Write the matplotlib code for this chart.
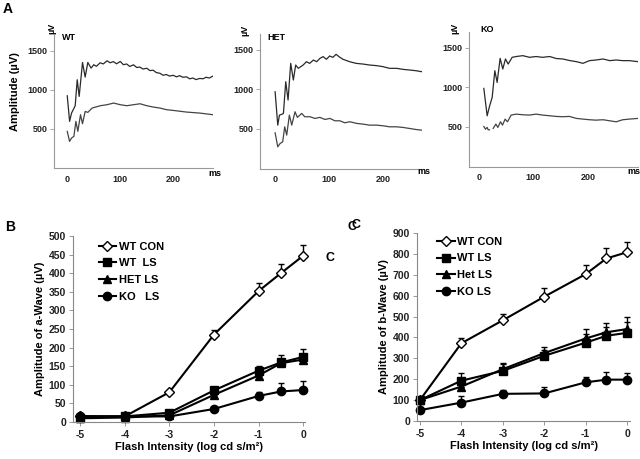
import numpy as np
import matplotlib
matplotlib.use("Agg")
import matplotlib.pyplot as plt

plt.rcParams['font.family'] = ['Liberation Sans', 'DejaVu Sans']
plt.rcParams['font.weight'] = 'bold'
plt.rcParams['axes.unicode_minus'] = False

# ---- panel A: ERG traces (ms, uV)
wt_top_ms = [0, 4.4, 8.1, 11.3, 15, 18.8, 22.5, 28.8, 33.8, 38.8, 45, 50, 55, 62, 68, 75, 81, 87, 93, 100,
             106, 112, 118, 125, 131, 137, 143, 150, 156, 162, 168, 175, 181, 187, 193, 200, 206, 212,
             218, 225, 231, 237, 243, 250, 256, 262, 268, 275]
wt_top_uv = [923, 596, 702, 745, 796, 1128, 915, 1349, 1162, 1349, 1277, 1320, 1300, 1345, 1330, 1370, 1345,
             1360, 1332, 1362, 1320, 1330, 1298, 1319, 1285, 1290, 1265, 1275, 1245, 1250, 1220, 1210, 1185,
             1195, 1175, 1185, 1165, 1180, 1160, 1165, 1140, 1150, 1130, 1145, 1140, 1160, 1150, 1175]
wt_bot_ms = [0, 4.4, 8.1, 12.5, 16.3, 20, 25, 28.8, 33.8, 38.8, 46.9, 62.5, 75, 87.5, 100, 112.5, 125,
             137.5, 150, 162.5, 175, 187.5, 200, 225, 250, 275]
wt_bot_uv = [468, 340, 383, 404, 596, 468, 681, 566, 723, 711, 766, 796, 809, 830, 809, 796, 809, 821, 796,
             779, 766, 745, 736, 715, 702, 681]

het_top_ms = [0, 4.9, 8, 11.7, 15.4, 19.7, 24, 28.9, 33.8, 38.1, 43, 52, 58, 64, 71, 77, 83, 89, 95, 101,
              107, 113, 120, 126, 138, 150, 163, 175, 188, 200, 212, 225, 237, 249, 261, 271]
het_top_uv = [970, 548, 675, 683, 696, 1097, 865, 1329, 1118, 1308, 1266, 1308, 1350, 1329, 1371, 1350, 1392,
              1414, 1380, 1422, 1405, 1443, 1405, 1380, 1350, 1329, 1320, 1308, 1300, 1287, 1266, 1266, 1253,
              1245, 1236, 1224]
het_bot_ms = [0, 4.9, 9.2, 14, 17.8, 21.5, 26.4, 30.8, 36.9, 41.2, 49.2, 55, 64.6, 73.8, 83, 92.3, 101.5,
              110.8, 120, 129, 138.5, 151, 163, 175, 188, 200, 212, 225, 237, 249, 261, 271]
het_bot_uv = [451, 274, 316, 337, 527, 422, 675, 548, 717, 646, 696, 654, 654, 633, 646, 620, 633, 603, 603,
              578, 591, 570, 561, 548, 548, 540, 527, 527, 519, 506, 493, 485]

ko_top_ms = [9.2, 15.3, 19.6, 24.5, 29.4, 33.6, 39.1, 44, 48.9, 53.8, 61.2, 68.5, 80.7, 93, 105, 117, 130,
             142, 154, 166, 179, 191, 203, 215, 228, 240, 252, 264, 276, 292]
ko_top_uv = [987, 641, 760, 873, 1211, 1063, 1367, 1232, 1359, 1295, 1380, 1390, 1401, 1380, 1390, 1380, 1390,
             1365, 1359, 1340, 1325, 1304, 1338, 1346, 1359, 1338, 1346, 1338, 1338, 1325]
ko_bot_ms = [9.2, 12.2, 15.3, 17.1, 19.6, 22, 26.3, 31.2, 34.9, 39.8, 43.4, 48.3, 52.6, 59.3, 68.5, 80.7, 93,
             105, 117, 130, 142, 154, 166, 179, 191, 203, 215, 228, 240, 252, 264, 276, 292]
ko_bot_uv = [506, 472, 494, 464, 464, np.nan, 481, 536, 494, 565, 523, 599, 565, 650, 662, 654, 650, 662, 650,
             641, 633, 629, 633, 608, 599, 591, 586, 591, 578, 565, 591, 599, 608]

# ---- panels B and C
intensity = [-5, -4, -3, -2, -1, -0.5, 0]

a_wt_con = [15, 15, 80, 235, 352, 400, 447]
a_wt_con_err = [0, 0, 0, 13, 22, 25, 28]
a_wt_ls = [12, 15, 25, 85, 138, 160, 175]
a_wt_ls_err = [0, 0, 0, 5, 12, 19, 20]
a_het_ls = [10, 12, 18, 73, 125, 158, 168]
a_het_ls_err = [0, 0, 0, 3, 8, 12, 15]
a_ko_ls = [16, 15, 15, 35, 70, 82, 86]
a_ko_ls_err = [0, 0, 0, 0, 10, 24, 23]

b_wt_con = [100, 372, 482, 595, 703, 778, 808]
b_wt_con_err = [0, 24, 32, 40, 42, 50, 50]
b_wt_ls = [100, 193, 240, 312, 375, 408, 422]
b_wt_ls_err = [0, 35, 39, 30, 40, 40, 50]
b_het_ls = [100, 165, 248, 325, 395, 425, 440]
b_het_ls_err = [0, 0, 25, 30, 44, 46, 57]
b_ko_ls = [52, 88, 130, 132, 185, 198, 198]
b_ko_ls_err = [0, 30, 20, 33, 24, 37, 33]

a_labels = ['WT CON', 'WT  LS', 'HET LS', 'KO   LS']
b_labels = ['WT CON', 'WT LS', 'Het LS', 'KO LS']

W, H = 640, 459


def box(l, t, r, b):
    return [l / W, 1 - b / H, (r - l) / W, (b - t) / H]


def ftext(x, y, s, **kw):
    fig.text(x / W, 1 - y / H, s, **kw)


fig = plt.figure(figsize=(6.4, 4.59), dpi=100)

traces = [
    ("WT", box(54, 35, 213, 168), (-25, 275), (wt_top_ms, wt_top_uv), (wt_bot_ms, wt_bot_uv)),
    ("HET", box(260, 34, 423, 168.5), (-28, 274), (het_top_ms, het_top_uv), (het_bot_ms, het_bot_uv)),
    ("KO", box(469, 32, 638, 166.5), (-18, 292), (ko_top_ms, ko_top_uv), (ko_bot_ms, ko_bot_uv)),
]
for name, pos, xl, top, bot in traces:
    ax = fig.add_axes(pos)
    ax.plot(top[0], top[1], color='#2a2a2a', lw=0.9)
    ax.plot(bot[0], bot[1], color='#444444', lw=0.9)
    ax.set_xlim(*xl)
    ax.set_ylim(0, 1700)
    ax.set_xticks([0, 100, 200])
    ax.set_yticks([500, 1000, 1500])
    for s in ['top', 'right']:
        ax.spines[s].set_visible(False)
    for s in ['left', 'bottom']:
        ax.spines[s].set_color('#999999')
        ax.spines[s].set_linewidth(0.8)
    ax.tick_params(axis='y', length=3, width=0.6, color='#999999', labelsize=6.5, pad=1.5)
    ax.tick_params(axis='x', length=0, labelsize=6.5, pad=5)
    for lab in ax.get_xticklabels() + ax.get_yticklabels():
        lab.set_fontweight('bold')
        lab.set_color('#222222')

ftext(3, 9, 'A', fontsize=10, fontweight='bold', va='center')
ftext(15, 92, 'Amplitude (µV)', rotation=90, fontsize=8, fontweight='bold', ha='center', va='center')
ftext(52, 28, 'µV', rotation=90, fontsize=6.5, fontweight='bold', ha='center', va='center')
ftext(245, 30, 'µV', rotation=90, fontsize=6.5, fontweight='bold', ha='center', va='center')
ftext(455, 28, 'µV', rotation=90, fontsize=6.5, fontweight='bold', ha='center', va='center')
ftext(62, 38, 'WT', fontsize=6.5, fontweight='bold', va='center')
ftext(267, 38, 'HET', fontsize=6.5, fontweight='bold', va='center')
ftext(480, 30, 'KO', fontsize=6.5, fontweight='bold', va='center')
ftext(208, 173, 'ms', fontsize=6.5, fontweight='bold', va='center')
ftext(417, 172, 'ms', fontsize=6.5, fontweight='bold', va='center')
ftext(627, 172, 'ms', fontsize=6.5, fontweight='bold', va='center')


def dose_panel(pos, xl, yl, yticks, series, labels, ylabel, leg_anchor):
    ax = fig.add_axes(pos)
    styles = [dict(marker='D', mfc='white', ms=4.6),
              dict(marker='s', mfc='black', ms=5.6),
              dict(marker='^', mfc='black', ms=6.0),
              dict(marker='o', mfc='black', ms=6.0)]
    for (vals, err), st, lab in zip(series, styles, labels):
        ax.errorbar(intensity, vals, yerr=[np.zeros(len(err)), err], color='black', lw=1.5,
                    mec='black', mew=1.0, capsize=2.5, elinewidth=1.0, capthick=1.0, label=lab,
                    clip_on=False, **st)
    ax.set_xlim(*xl)
    ax.set_ylim(*yl)
    ax.set_xticks([-5, -4, -3, -2, -1, 0])
    ax.set_yticks(yticks)
    for s in ['top', 'right']:
        ax.spines[s].set_visible(False)
    for s in ['left', 'bottom']:
        ax.spines[s].set_color('#888888')
        ax.spines[s].set_linewidth(0.8)
    ax.tick_params(length=3, width=0.6, color='#888888', labelsize=7.5, pad=2)
    ax.tick_params(axis='x', pad=2.5)
    for lab in ax.get_xticklabels() + ax.get_yticklabels():
        lab.set_fontweight('bold')
        lab.set_color('#222222')
    ax.set_ylabel(ylabel, fontsize=8, fontweight='bold', labelpad=3)
    ax.set_xlabel('Flash Intensity (log cd s/m²)', fontsize=8, fontweight='bold', labelpad=2)
    h, l = ax.get_legend_handles_labels()
    handles = [hh[0] for hh in h]
    ax.legend(handles, l, loc='upper left', bbox_to_anchor=leg_anchor, frameon=False,
              prop={'size': 8, 'weight': 'bold'}, handlelength=1.6, handletextpad=0.2,
              labelspacing=0.6, borderpad=0, borderaxespad=0)
    return ax


dose_panel(box(73, 236, 305, 422), (-5.16, 0.04), (0, 500), range(0, 501, 50),
           [(a_wt_con, a_wt_con_err), (a_wt_ls, a_wt_ls_err), (a_het_ls, a_het_ls_err), (a_ko_ls, a_ko_ls_err)],
           a_labels, 'Amplitude of a-Wave (µV)', (0.11, 0.97))
dose_panel(box(417, 233, 630, 421), (-5.07, 0.07), (0, 900), range(0, 901, 100),
           [(b_wt_con, b_wt_con_err), (b_wt_ls, b_wt_ls_err), (b_het_ls, b_het_ls_err), (b_ko_ls, b_ko_ls_err)],
           b_labels, 'Amplitude of b-Wave (µV)', (0.095, 0.98))

ftext(5, 227, 'B', fontsize=10, fontweight='bold', va='center')
ftext(326, 258, 'C', fontsize=9, fontweight='bold', va='center')
ftext(347, 227, 'C', fontsize=9, fontweight='bold', va='center')
ftext(351, 225, 'C', fontsize=9, fontweight='bold', va='center')

fig.savefig('out.png', dpi=100)
